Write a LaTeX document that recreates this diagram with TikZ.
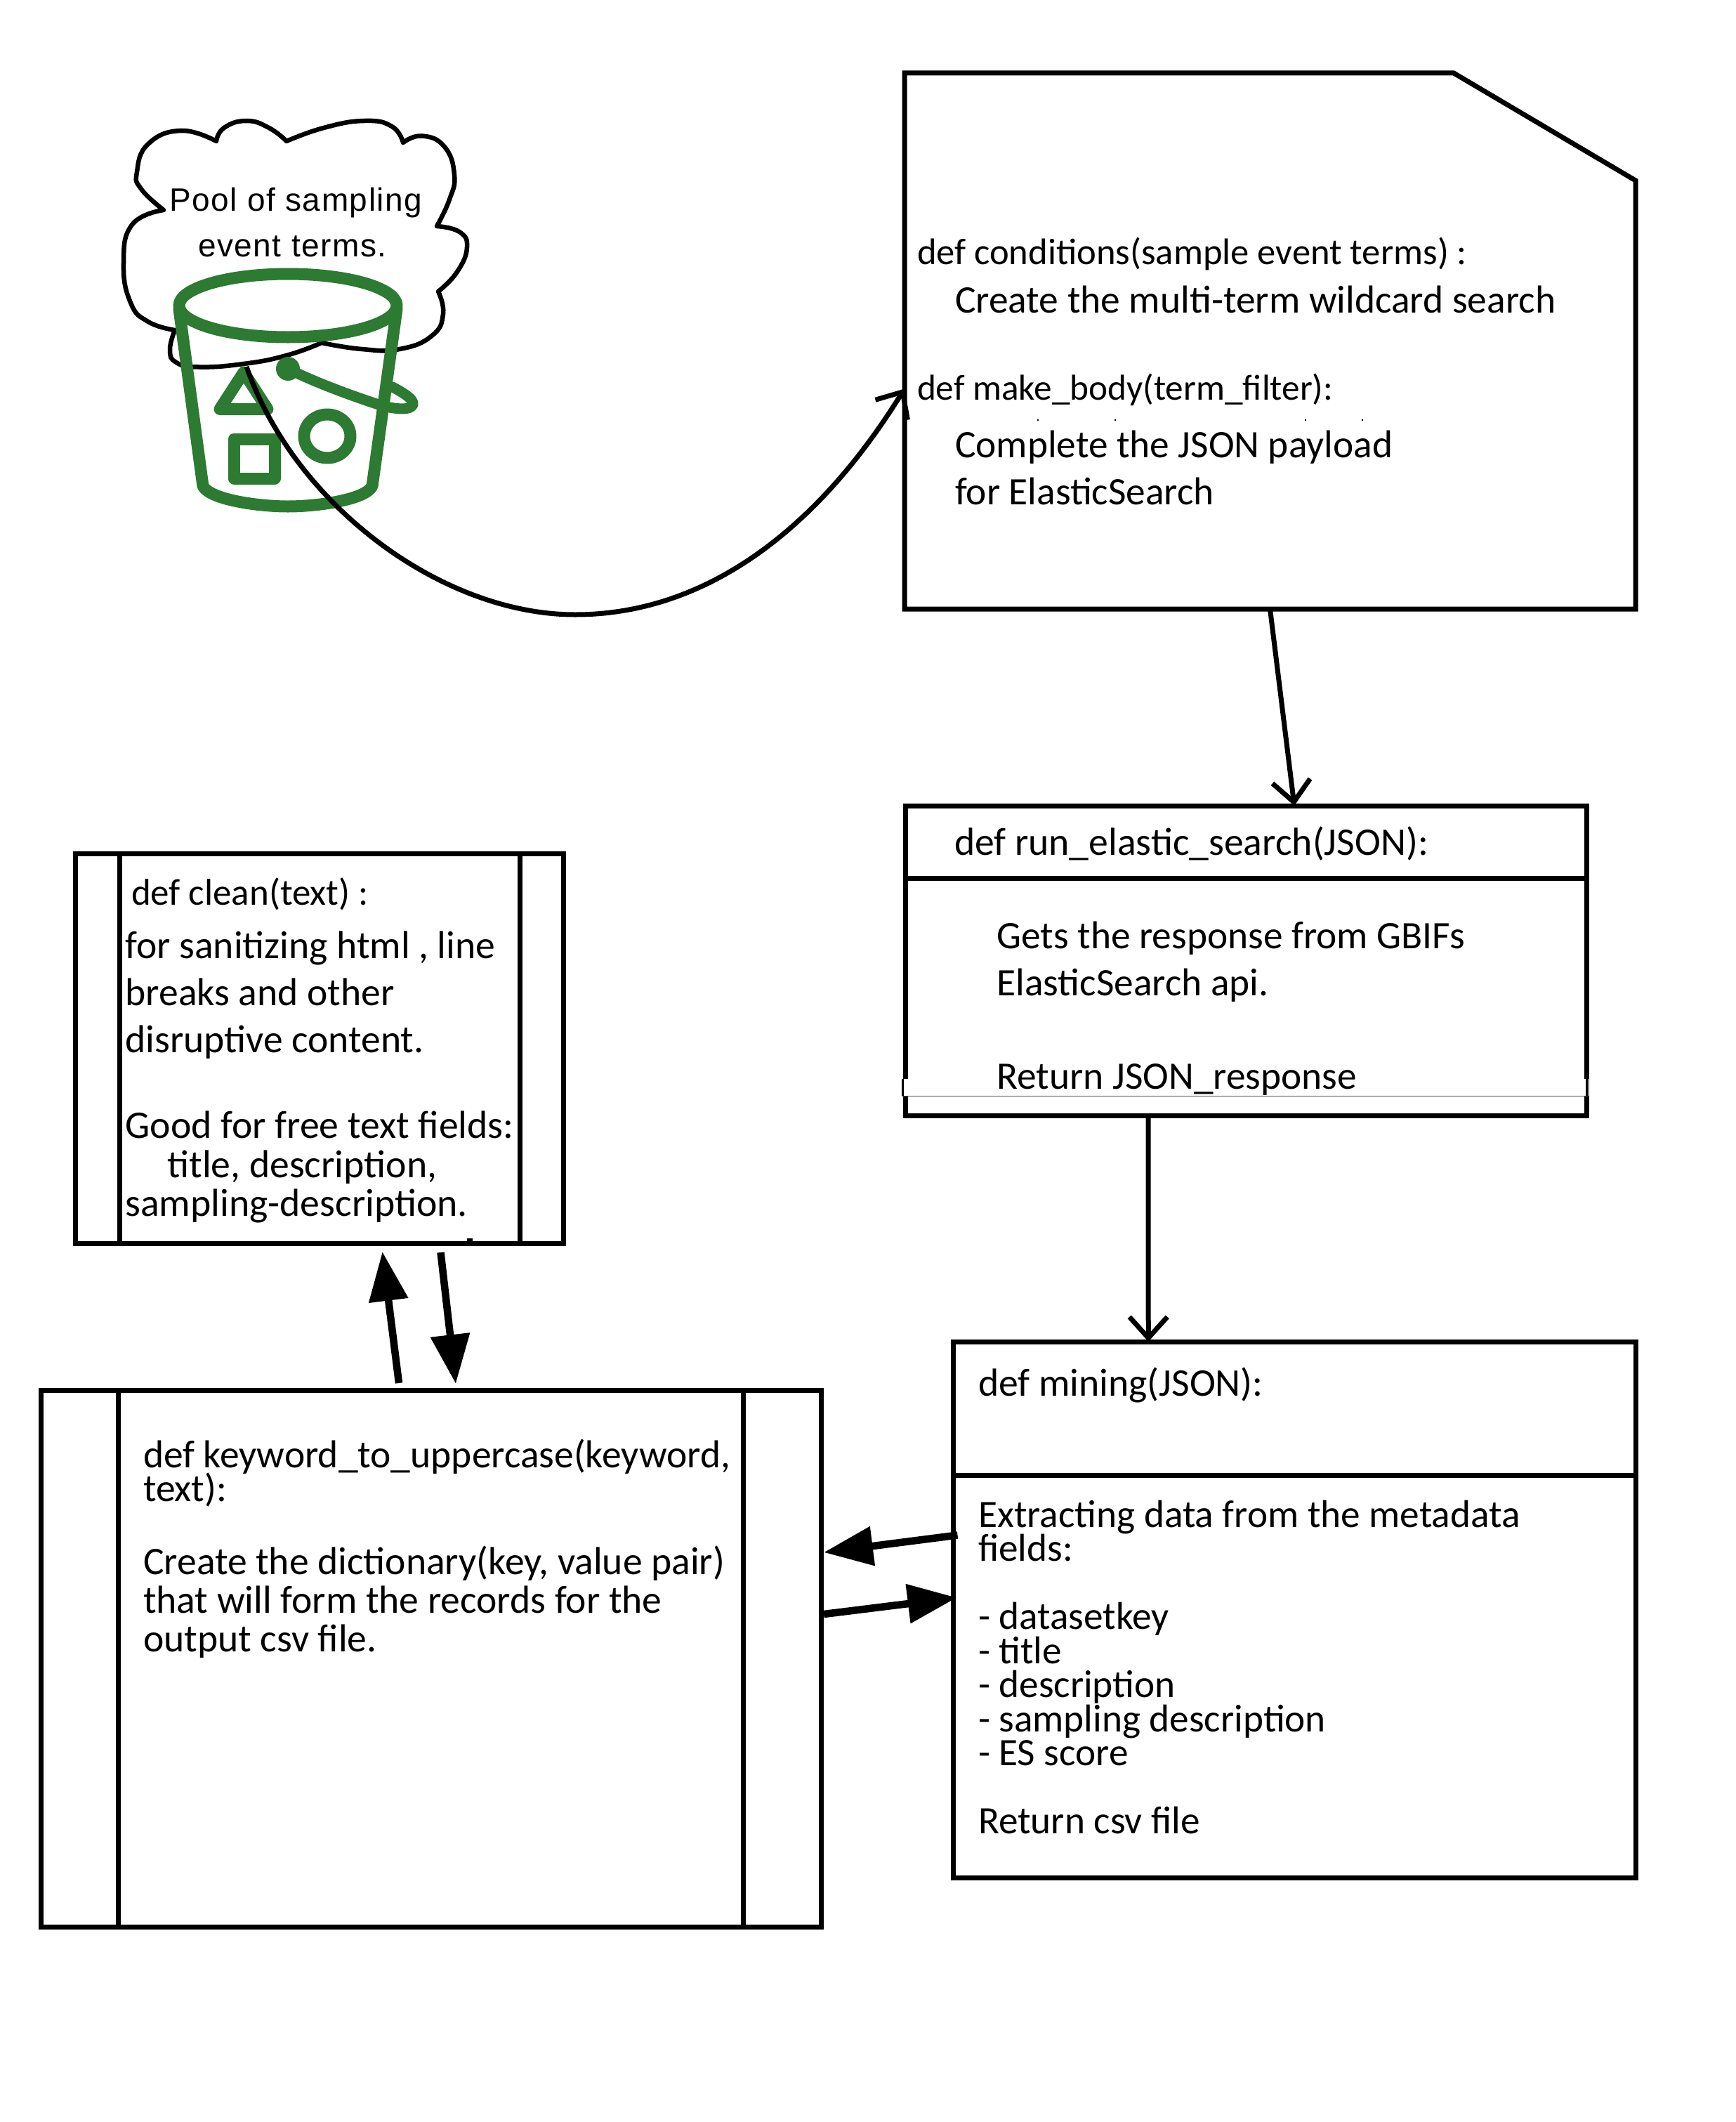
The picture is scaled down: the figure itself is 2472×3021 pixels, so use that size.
\documentclass[tikz,border=0pt]{standalone}
\usepackage{fontspec}
\setmainfont{Carlito}
\newfontfamily\poolfont[LetterSpace=3.4]{Liberation Sans}
\usetikzlibrary{arrows.meta}
\definecolor{bucketgreen}{HTML}{2D7A32}
\newcommand\rows[1]{\vtop{\lineskiplimit=-1000pt\relax\lineskip=0pt\relax #1}}
\tikzset{
  boxline/.style={draw=black,line width=7pt,fill=none,inner sep=0pt,outer sep=0pt,anchor=north west,line join=miter},
  txt/.style={anchor=base west,inner sep=0pt,outer sep=0pt,text=black},
  fsize/.style 2 args={font=\fontsize{#1}{#2}\selectfont},
  bline/.style={draw=bucketgreen,line width=17pt,line join=round,line cap=round},
  openarrow/.style={draw=black,line width=7pt,-{Straight Barb[length=30pt,width=54pt]}},
  fatarrow/.style={draw=black,line width=10.5pt,-{Triangle[length=70pt,width=54pt]}},
  cloudline/.style={draw=black,line width=6.5pt,line join=miter,line cap=round},
  sm/.style={smooth,tension=0.8},
}
\begin{document}
\begin{tikzpicture}[x=1pt,y=-1pt]
\useasboundingbox (0,0) rectangle (2472,3021);
\fill[white] (0,0) rectangle (2472,3021);

% cloud
\draw[cloudline]
 plot[sm] coordinates {(308,201) (319,182) (351,172) (383,182) (408,201)}
 plot[sm] coordinates {(408,201) (461,182) (519,172) (558,180) (574,203)}
 plot[sm] coordinates {(574,203) (601,193.5) (633,209) (647,249) (640,284) (622,322)}
 plot[sm] coordinates {(622,322) (654,330) (665,352) (651,387) (624,415)}
 plot[sm] coordinates {(624,415) (631,447) (615,478) (569,497) (515,497) (458,488)}
 plot[sm] coordinates {(458,488) (408,506) (347,518) (283,522.5) (251,516) (242,498) (249,470)}
 plot[sm] coordinates {(249,470) (211,458) (186,431) (176,375) (188,320) (233,299)}
 plot[sm] coordinates {(233,299) (201,269) (195,245) (211,205) (258,186) (308,201)};
\node[txt,font=\fontsize{46}{65}\poolfont] (pool1) at (241,300) {Pool of sampling};
\node[txt,font=\fontsize{46}{65}\poolfont] (pool2) at (282,365.5) {event terms.};

% bucket
\draw[bline] (410,435) ellipse [x radius=155,y radius=45];
\draw[bline] (255,440) -- (289,692) .. controls (300,712) and (370,721) .. (410,721)
   .. controls (450,721) and (520,712) .. (530,692) -- (565,440);
\draw[bline] (347,530) -- (313,582.5) -- (381,582.5) -- cycle;
\draw[bline] (333,625) rectangle (391,681);
\draw[bline] (466,621) ellipse [x radius=33,y radius=31];
\fill[bucketgreen] (410,525) circle [radius=17];
\draw[bline,line width=15pt] (410,525) .. controls (450,545) and (500,563) .. (536,575)
   .. controls (560,583) and (585,585) .. (588,576) .. controls (590,568) and (572,558) .. (559,551);
\coordinate (bucketout) at (351,522);

% note box
\node[inner sep=0pt,outer sep=0pt,anchor=north west,minimum width=1041pt,minimum height=763pt] (note) at (1288,104) {};
\draw[draw=black,line width=7pt,line join=miter] (note.north west) -- (2070,104) -- (2329,257) -- (note.south east) -- (note.south west) -- cycle;
\node[txt,fsize={52.6}{68}] (n1) at (1306,376) {def conditions(sample event terms) :};
\node[txt,fsize={55.5}{68}] (n2) at (1360,445) {Create the multi-term wildcard search};
\node[txt,fsize={51.3}{68}] (n3) at (1306,569) {def make\_body(term\_filter):};
\node[txt,fsize={55.4}{67}] (n4) at (1360,651) {\rows{\hbox{Complete the JSON payload}\hbox{for ElasticSearch}}};
\foreach \sx in {1477,1587,1858,1939} \fill[black] (\sx,597) rectangle +(2,2);

% run box
\node[boxline,minimum width=970pt,minimum height=441pt] (run) at (1289,1147) {};
\draw[draw=black,line width=7pt] (run.west |- 0,1250) -- (run.east |- 0,1250);
\node[txt,fsize={55.7}{66.5}] (r1) at (1359,1217) {def run\_elastic\_search(JSON):};
\node[txt,fsize={55.4}{66.5}] (r2) at (1419.5,1350.5) {\rows{\hbox{Gets the response from GBIFs}\hbox{ElasticSearch api.}\hbox{}\hbox{Return JSON\_response}}};
\fill[white] (1286,1536) rectangle (1292.5,1560);
\fill[white] (2256,1536) rectangle (2262,1560);
\fill[black] (1284,1536) rectangle (1287,1560);
\fill[black] (2258,1536) rectangle (2261,1560);
\draw[draw=black!70,line width=1pt] (1284,1560) -- (2261,1560);

% mining box
\node[boxline,minimum width=971.5pt,minimum height=763pt] (mining) at (1357.5,1910) {};
\draw[draw=black,line width=7pt] (mining.west |- 0,2100) -- (mining.east |- 0,2100);
\node[txt,fsize={55.7}{48.5}] (m1) at (1393,1987.5) {def mining(JSON):};
\node[txt,fsize={55.3}{48.5}] (m2) at (1393,2174) {\rows{\hbox{Extracting data from the metadata}\hbox{fields:}\hbox{}\hbox{- datasetkey}\hbox{- title}\hbox{- description}\hbox{- sampling description}\hbox{- ES score}\hbox{}\hbox{Return csv file}}};

% keyword box
\node[boxline,minimum width=1111pt,minimum height=764pt] (kw) at (58,1979) {};
\draw[draw=black,line width=7pt] (168,1979) -- (168,2743) (1058,1979) -- (1058,2743);
\node[txt,fsize={55.5}{48.5}] (k1) at (204,2089) {\rows{\hbox{def keyword\_to\_uppercase(keyword,}\hbox{text):}}};
\node[txt,fsize={55.6}{55}] (k2) at (204,2241.5) {\rows{\hbox{Create the dictionary(key, value pair)}\hbox{that will form the records for the}\hbox{output csv file.}}};

% clean box
\node[boxline,minimum width=695pt,minimum height=555.5pt] (clean) at (107,1215) {};
\draw[draw=black,line width=7pt] (170,1215) -- (170,1770.5) (740,1215) -- (740,1770.5);
\node[txt,fsize={53}{67}] (c1) at (187,1288) {def clean(text) :};
\node[txt,fsize={55.6}{67}] (c2) at (178.5,1364.5) {\rows{\hbox{for sanitizing html , line}\hbox{breaks and other}\hbox{disruptive content.}}};
\node[txt,fsize={55.7}{55.5}] (c3) at (178.5,1620.5) {\rows{\hbox{Good for free text fields:}\hbox{\hspace{60pt}title, description,}\hbox{sampling-description.}}};
\fill[black] (665,1763) rectangle (673,1767);

% connectors
\draw[openarrow] (bucketout) .. controls (420,720) and (630,875) .. (819,875)
   .. controls (1000,875) and (1160,760) .. ([yshift=-68pt]note.west);
\draw[openarrow] (note.south) -- ([xshift=69pt]run.north);
\draw[openarrow] ([xshift=-139pt]run.south) -- ([xshift=-208pt]mining.north);
\draw[fatarrow] ([xshift=-45.5pt,yshift=10pt]kw.north) -- ([xshift=90pt,yshift=-11.5pt]clean.south);
\draw[fatarrow] ([xshift=173pt,yshift=-12.5pt]clean.south) -- ([xshift=35.5pt,yshift=9pt]kw.north);
\draw[fatarrow] ([xshift=6pt,yshift=106pt]mining.west) -- ([xshift=4pt,yshift=151pt]kw.east);
\draw[fatarrow] ([xshift=4pt,yshift=63pt]kw.east) -- ([xshift=5pt,yshift=17pt]mining.west);
\end{tikzpicture}
\end{document}
